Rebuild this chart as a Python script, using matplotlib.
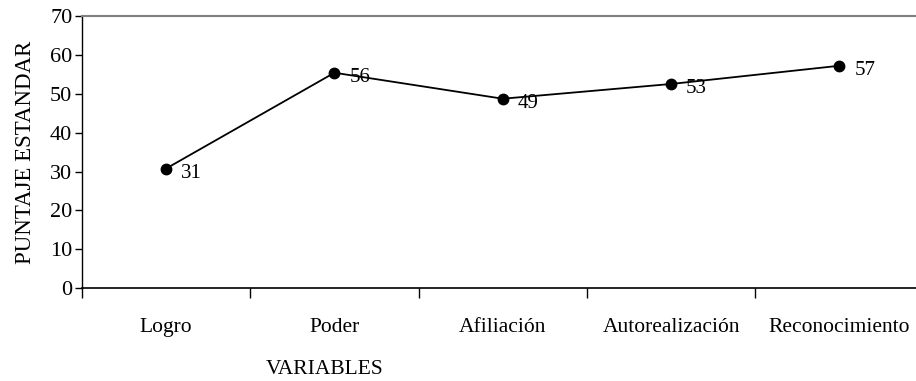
import matplotlib
matplotlib.use("Agg")
import matplotlib.pyplot as plt

plt.rcParams['font.family'] = ['Liberation Serif', 'DejaVu Serif']

categorias = ['Logro', 'Poder', 'Afiliación', 'Autorealización', 'Reconocimiento']
puntajes = [30.8, 55.5, 48.8, 52.6, 57.3]
etiquetas = ['31', '56', '49', '53', '57']

fig = plt.figure(figsize=(9.16, 3.81), dpi=100)
ax = fig.add_axes([0.0895, 0.2441, 0.9187, 0.7126])

x = list(range(len(categorias)))
ax.plot(x, puntajes, color='black', lw=1.3, marker='o', markersize=7.5)
for xi, yi, t in zip(x, puntajes, etiquetas):
    ax.annotate(t, (xi, yi), xytext=(15, -5), textcoords='offset pixels',
                ha='left', va='center', fontsize=15)

ax.set_xlim(-0.5, len(categorias) - 0.5)
ax.set_ylim(0, 70)
ax.set_yticks(range(0, 71, 10))
ax.set_xticks(x)
ax.set_xticklabels(categorias)
ax.set_xticks([i - 0.5 for i in range(len(categorias) + 1)], minor=True)
ax.tick_params(axis='x', which='major', length=0, pad=21.5, labelsize=15.5)
ax.tick_params(axis='x', which='minor', length=7, width=1, direction='out')
ax.tick_params(axis='y', length=5, width=1, direction='out', labelsize=16, pad=2)

ax.spines['right'].set_visible(False)
ax.spines['top'].set_color('#808080')
ax.spines['top'].set_linewidth(1.5)
ax.spines['left'].set_linewidth(1)
ax.spines['bottom'].set_linewidth(1.2)

ax.set_ylabel('PUNTAJE ESTANDAR', fontsize=16.5, labelpad=10)
fig.text(325 / 916, 1 - 370 / 381, 'VARIABLES', ha='center', va='center', fontsize=15.5)

fig.savefig('out.png', dpi=100)
